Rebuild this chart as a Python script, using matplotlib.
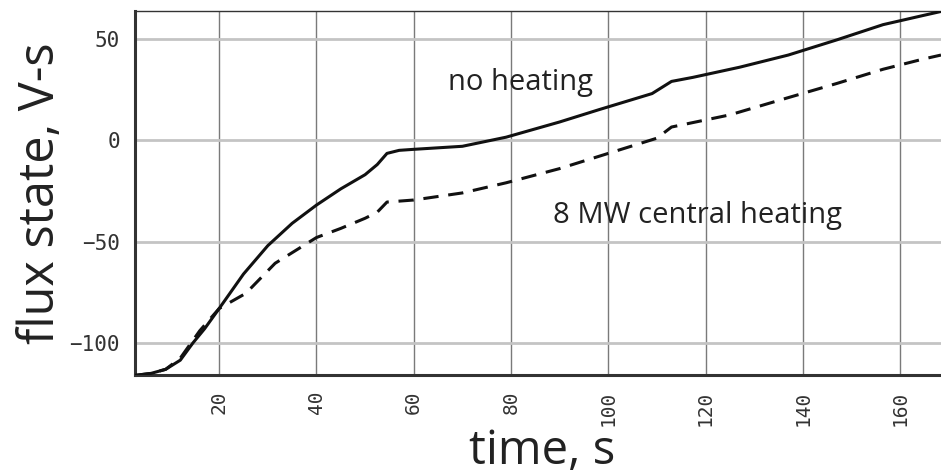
import numpy as np
import matplotlib.pyplot as plt

# values
t_no_heat = [2.7, 6, 9, 12, 14.6, 17, 20, 25, 30, 35, 40, 45, 50, 52.5, 54.5, 57, 60, 70, 79,
             90, 98, 109, 111, 113, 117.4, 127, 137, 147, 156.5, 164.7, 168.4]
flux_no_heat = [-116, -115, -113, -108.5, -100, -93, -83, -66, -52, -41, -32, -24, -17, -12,
                -6.5, -5, -4.5, -3, 1.5, 9, 15, 23, 26, 29, 31, 36, 42, 49.5, 57, 61.5, 63.5]

t_heat = [2.7, 6, 9, 12, 16, 20, 25.5, 31.5, 40, 45, 50, 52.5, 54.5, 60, 70, 79, 90, 98,
          110, 113, 125, 137, 147, 156.5, 164.7, 168.4]
flux_heat = [-116, -115, -113, -107.5, -94, -83, -75.5, -60.7, -48, -43.5, -38.5, -35.5,
             -30.5, -29.5, -26, -21, -14, -8, 1, 6.5, 12.5, 21, 28, 35, 40, 42]

x_ticks = [20, 40, 60, 80, 100, 120, 140, 160]
y_ticks = [-100, -50, 0, 50]

fig = plt.figure(figsize=(9.41, 4.76), dpi=100)
ax = fig.add_axes([0.1435, 0.2122, 0.857, 0.765])

ax.plot(t_no_heat, flux_no_heat, color='#111111', lw=2.2, zorder=3)
ax.plot(t_heat, flux_heat, color='#111111', lw=2.2, ls=(0, (5, 3.2)), zorder=3)

ax.set_xlim(2.7, 168.5)
ax.set_ylim(-115.8, 63.8)
ax.set_xticks(x_ticks)
ax.set_yticks(y_ticks)

for x in x_ticks:
    ax.axvline(x, color='#7a7a7a', lw=1.0, zorder=1)
for y in y_ticks:
    ax.axhline(y, color='#c4c4c4', lw=2.0, zorder=1)

mono = dict(family='DejaVu Sans Mono', fontsize=14, color='#333333')
ax.set_xticklabels([str(v) for v in x_ticks], rotation=90, **mono)
ax.set_yticklabels([str(v).replace('-', '\u2212') for v in y_ticks],
                   family='DejaVu Sans Mono', fontsize=15, color='#333333')
ax.tick_params(length=0, pad=11)

for s in ['left', 'bottom']:
    ax.spines[s].set_linewidth(2.2)
    ax.spines[s].set_color('#333333')
ax.spines['top'].set_linewidth(1.0)
ax.spines['top'].set_color('#333333')
ax.spines['right'].set_visible(False)

sans = ['Open Sans', 'DejaVu Sans']
ax.set_xlabel('time, s', family=sans, fontsize=34, color='#222222', va='baseline')
ax.xaxis.set_label_coords(0.505, -0.245)
ax.set_ylabel('flux state, V-s', family=sans, fontsize=35, color='#222222', labelpad=2)

ax.text(67, 28.6, 'no heating', family=sans, fontsize=21, color='#222222', va='center')
ax.text(88.6, -37, '8 MW central heating', family=sans, fontsize=21, color='#222222', va='center')

fig.savefig('out.png', dpi=100)
